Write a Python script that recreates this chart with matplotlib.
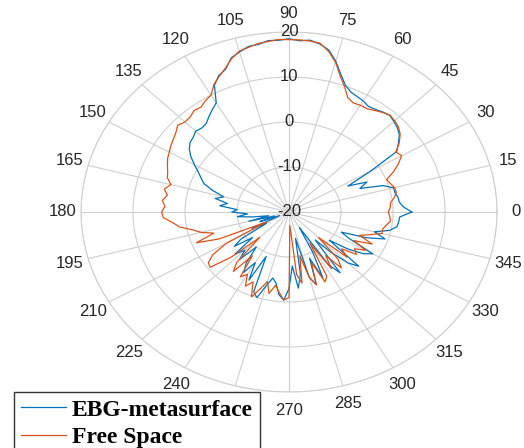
import numpy as np
import matplotlib.pyplot as plt

# measured pattern, dB, sampled every 3 degrees
angles_deg = list(range(0, 360, 3))

ebg = [3.6, 2.0, 1.3, 1.2, 0.8, 0.8, -1.0, -5.4, -3.6, -7.3,
       -2.0, 4.7, 6.0, 7.3, 8.0, 8.5, 8.9, 8.6, 8.2, 8.0,
       8.5, 8.8, 9.2, 10.2, 12.2, 14.7, 16.8, 17.8, 18.4, 18.1,
       18.5, 18.2, 18.3, 17.7, 17.6, 16.8, 16.0, 14.0, 13.2, 11.6,
       8.0, 7.1, 6.2, 5.3, 5.1, 5.4, 4.8, 4.5, 3.7, 2.5,
       1.0, -0.4, -1.5, -2.5, -4.6, -7.0, -5.5, -8.0, -6.6, -10.0,
       -9.0, -12.0, -10.0, -13.0, -16.0, -12.0, -17.0, -14.0, -18.0, -12.0,
       -15.0, -9.0, -7.0, -11.0, -6.0, -8.0, -5.8, -10.0, -6.0, -4.0,
       -7.0, -3.0, -9.2, -1.0, 0.0, -3.0, -5.0, -4.0, -1.5, -0.4,
       -3.0, -8.0, -3.0, -6.0, -14.0, -5.0, -3.0, -9.0, -4.0, -10.0,
       -16.0, -6.0, -3.3, -12.0, -8.0, -4.0, -2.0, -10.0, -6.0, -3.0,
       -1.4, -7.0, -9.0, -4.0, -0.6, -3.0, -0.3, 1.0, 1.2, 1.3]

free_space = [-0.9, -0.5, -0.4, 0.5, 1.1, 1.0, 0.5, 0.1, 2.0, 3.6,
              5.0, 4.5, 6.2, 7.5, 8.3, 8.7, 9.0, 8.5, 7.9, 7.4,
              7.4, 7.2, 7.8, 9.8, 11.8, 14.5, 16.5, 18.0, 18.2, 18.3,
              18.3, 18.4, 18.1, 17.9, 17.4, 17.0, 15.8, 14.2, 13.0, 11.8,
              10.0, 9.5, 8.8, 9.0, 8.4, 8.3, 8.8, 8.0, 7.5, 7.1,
              6.6, 6.2, 5.6, 5.0, 4.6, 3.5, 4.5, 3.7, 4.5, 3.9,
              4.5, 4.2, 2.5, 1.3, -1.0, -2.5, -4.8, -0.9, -5.3, -15.0,
              -6.0, -2.5, -0.8, -0.5, -4.9, -12.0, -5.0, -3.0, -8.0, -2.8,
              -4.0, -1.5, -3.0, 0.2, -2.0, -4.0, -1.5, -3.5, -2.0, -0.4,
              -1.0, -17.0, -6.0, -4.0, -10.0, -5.0, -3.0, -8.0, -3.0, -4.0,
              -12.0, -5.0, -8.0, -4.0, -6.0, -12.0, -5.0, -7.0, -4.0, -5.0,
              -3.0, -6.0, -2.5, -5.5, -3.7, -1.5, -1.6, -1.1, -0.4, -0.6]

series_names = ['EBG-metasurface', 'Free Space']
r_ticks = [-20, -10, 0, 10, 20]
theta_ticks = list(range(0, 360, 15))

fig = plt.figure(figsize=(5.24, 4.48), dpi=100)
ax = fig.add_axes([0.1546, 0.125, 0.794, 0.8036], projection='polar')
ax.set_aspect('auto')  # picture is stretched sideways

th = np.deg2rad(angles_deg + [angles_deg[0]])
l1, = ax.plot(th, ebg + [ebg[0]], color='#0072BD', lw=0.9)
l2, = ax.plot(th, free_space + [free_space[0]], color='#D95319', lw=0.9)

ax.set_rlim(-20, 20)
ax.set_rticks(r_ticks)
ax.set_yticklabels([])
for r in r_ticks:
    ax.text(np.pi / 2, r, str(r), ha='center', va='center',
            fontsize=12, color='#262626', family='Liberation Sans')

ax.set_thetagrids(theta_ticks, [str(t) for t in theta_ticks])
ax.tick_params(axis='x', pad=3, labelsize=12, labelcolor='#262626')
for t in ax.get_xticklabels():
    t.set_family('Liberation Sans')
ax.grid(color='#cfcfcf', lw=0.8)
ax.spines['polar'].set_color('#cfcfcf')
ax.spines['polar'].set_linewidth(0.8)

leg = fig.legend([l1, l2], series_names, loc='upper left',
                 bbox_to_anchor=(0.0267, 0.125),
                 prop={'family': 'Liberation Serif', 'weight': 'bold', 'size': 17},
                 handlelength=1.9, handletextpad=0.25, borderpad=0.3,
                 labelspacing=0.25, borderaxespad=0, fancybox=False,
                 framealpha=1, edgecolor='#333333')
leg.get_frame().set_linewidth(1.0)

fig.savefig('out.png', dpi=100)
